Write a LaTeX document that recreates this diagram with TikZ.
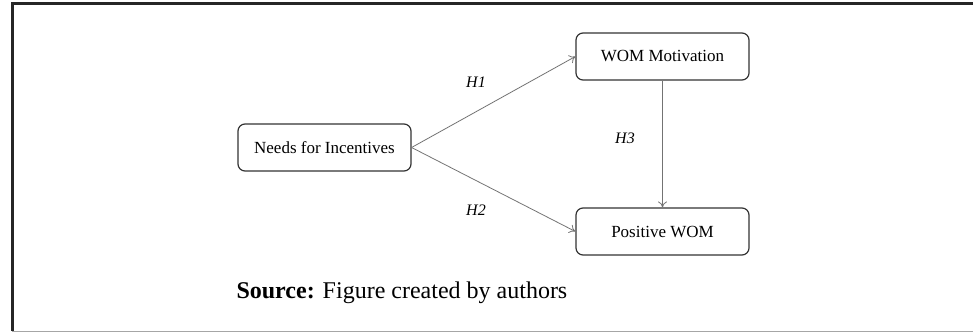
\documentclass[tikz,border=0pt]{standalone}
\usepackage{fontspec}
\setmainfont{Liberation Serif}
\usetikzlibrary{arrows.meta}
\begin{document}
\begin{tikzpicture}[
		x=1pt, y=-1pt,
		b/.style={rectangle, draw=black!80, line width=1.2pt, rounded corners=7pt, minimum width=173, minimum height=47, font=\fontsize{17}{20}\selectfont},
		h/.style={font=\fontsize{16}{19}\selectfont\itshape},
		r/.style = {-{To[length=6pt, width=9pt]}, draw=black!55, line width=0.8pt},
		]
		
		%Frame
		\useasboundingbox	(0, 0)	rectangle	(973, 332);
		\draw[line width=3pt, black!85]	(12, 331)	|-	(973, 3.5);
		\draw[black!35]	(12, 331)	--	(973, 331);
		
		%Nodes
		\node[b]    (needs)		at	(324.5, 147.5)	{Needs for Incentives};
		\node[b]    (motiv)		at	(662.5, 56.5)	{WOM Motivation};
		\node[b]    (pos)		at	(662.5, 231.5)	{Positive WOM};
		\node[h]    (h1)		at	(476, 82)	{H1};
		\node[h]    (h2)		at	(476, 210)	{H2};
		\node[h]    (h3)		at	(625, 138)	{H3};
		\node[anchor=west, font=\fontsize{24}{28}\selectfont]	(src)	at	(233, 293)	{\textbf{Source:} Figure created by authors};
		
		\draw[r]	(needs.east)	to	(motiv.west);
		\draw[r]	(needs.east)	to	(pos.west);
		\draw[r]	(motiv)			to	(pos);
	\end{tikzpicture}
\end{document}
